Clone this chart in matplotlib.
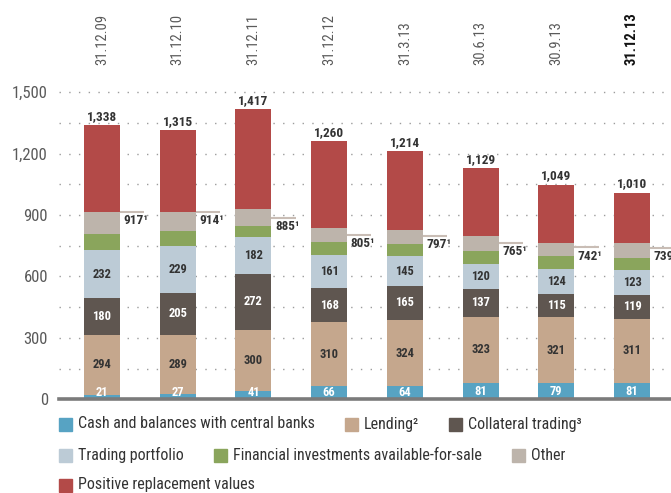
import matplotlib
matplotlib.use("Agg")
import matplotlib.pyplot as plt
import matplotlib.font_manager as fm
from matplotlib.patches import Rectangle
from matplotlib.transforms import blended_transform_factory

# data (CHF bn)
dates = ["31.12.09", "31.12.10", "31.12.11", "31.12.12", "31.3.13", "30.6.13", "30.9.13", "31.12.13"]
cash = [21, 27, 41, 66, 64, 81, 79, 81]
lending = [294, 289, 300, 310, 324, 323, 321, 311]
collateral = [180, 205, 272, 168, 165, 137, 115, 119]
trading = [232, 229, 182, 161, 145, 120, 124, 123]
fin_inv = [81, 74, 53, 63, 61, 63, 61, 56]
other = [108, 92, 83, 70, 68, 74, 64, 74]
prv = [422, 399, 486, 422, 387, 331, 285, 246]
totals = [1338, 1315, 1417, 1260, 1214, 1129, 1049, 1010]
adjusted = [917, 914, 885, 805, 797, 765, 742, 739]

series_names = ["Cash and balances with central banks", "Lending\u00b2", "Collateral trading\u00b3",
                "Trading portfolio", "Financial investments available-for-sale", "Other",
                "Positive replacement values"]
colors = ["#57a3c3", "#c5a78d", "#5f5650", "#bccbd6", "#8aa55c", "#bdb4ab", "#b34a48"]

# pick a narrow font if there is one
avail = {f.name for f in fm.fontManager.ttflist}
font = "DejaVu Sans"
for cand in ["Roboto Condensed", "Liberation Sans Narrow", "Open Sans Condensed"]:
    if cand in avail:
        font = cand
        break
plt.rcParams["font.family"] = [font, "DejaVu Sans"]

W, H = 671, 493
fig = plt.figure(figsize=(W / 100, H / 100), dpi=100)
ax = fig.add_axes([59 / W, 93.7 / H, (W - 59) / W, 319.3 / H])

x = list(range(len(dates)))
bw = 0.476
stack = [cash, lending, collateral, trading, fin_inv, other, prv]
bottom = [0] * len(dates)
for vals, col in zip(stack, colors):
    ax.bar(x, vals, bw, bottom=bottom, color=col, zorder=2)
    bottom = [b + v for b, v in zip(bottom, vals)]

# dotted grid + base line
for v in range(150, 1501, 150):
    ax.axhline(v, color="#9c9c9c", lw=1.0, ls=(0, (1, 6)), zorder=0)
ax.axhline(0, color="#7b7b7b", lw=2.6, zorder=3, clip_on=False)

# segment labels
lab = dict(ha="center", va="center", fontsize=9, fontweight="bold", zorder=4)
for i in x:
    ax.text(i, max(cash[i] / 2, 34), str(cash[i]), color="white", **lab)
    b = cash[i]
    ax.text(i, b + lending[i] / 2, str(lending[i]), color="#333333", **lab)
    b += lending[i]
    ax.text(i, b + collateral[i] / 2, str(collateral[i]), color="white", **lab)
    b += collateral[i]
    ax.text(i, b + trading[i] / 2, str(trading[i]), color="#333333", **lab)
    ax.annotate(f"{totals[i]:,}", (i, totals[i]), xytext=(0, 1.5), textcoords="offset points",
                ha="center", va="bottom", fontsize=9.5, fontweight="bold", color="#333333")
    x0 = i + bw / 2
    ax.plot([x0, x0 + 0.32], [adjusted[i], adjusted[i]], color="#c9bdb5", lw=1.5,
            solid_capstyle="butt", clip_on=False, zorder=3)
    ax.annotate(f"{adjusted[i]}\u00b9", (x0, adjusted[i]), xytext=(2.5, -1.5), textcoords="offset points",
                ha="left", va="top", fontsize=9.5, fontweight="bold", color="#333333", annotation_clip=False)

# dates on top
tr = blended_transform_factory(ax.transData, fig.transFigure)
for i, d in enumerate(dates):
    last = i == len(dates) - 1
    ax.text(i, 1 - 65 / H, d, transform=tr, rotation=90, ha="center", va="bottom", fontsize=10.5,
            color="#111111" if last else "#5a5a5a", fontweight="bold" if last else "normal")

ax.set_xlim(-0.568, 7.515)
ax.set_ylim(0, 1560)
ax.set_xticks([])
ax.set_yticks(range(0, 1501, 300))
ax.set_yticklabels([f"{v:,}" for v in range(0, 1501, 300)])
ax.tick_params(axis="y", length=0, pad=8, labelsize=12, labelcolor="#5a5a5a")
for s in ax.spines.values():
    s.set_visible(False)

# legend, flowed in rows
rows = [[0, 1, 2], [3, 4, 5], [6]]
row_y = [424, 455, 485]
renderer = fig.canvas.get_renderer()
for r, idxs in enumerate(rows):
    px = 59
    yc = H - row_y[r]
    for k in idxs:
        fig.add_artist(Rectangle((px / W, (yc - 6.5) / H), 13 / W, 13 / H,
                                 transform=fig.transFigure, color=colors[k]))
        t = fig.text((px + 19) / W, yc / H, series_names[k], ha="left", va="center",
                     fontsize=11.5, color="#333333")
        bb = t.get_window_extent(renderer)
        px = bb.x1 + 30

fig.savefig("out.png", dpi=100)
